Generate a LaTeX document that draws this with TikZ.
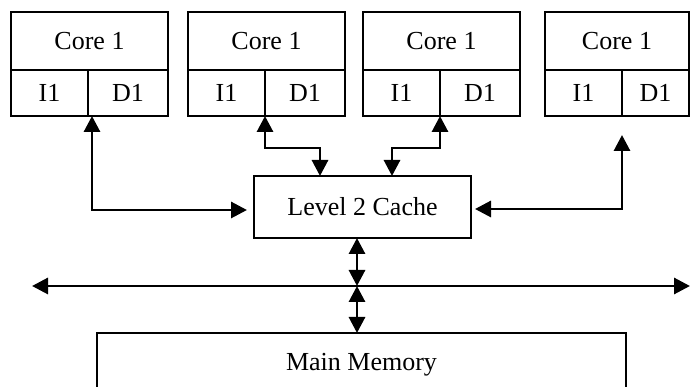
\documentclass[tikz,border=0pt]{standalone}
\usepackage{fontspec}
\setmainfont{Liberation Serif}
\usetikzlibrary{positioning, arrows.meta}

\tikzset{
    box/.style={draw, line width=1.2pt, inner sep=0pt, outer sep=0pt,
        font=\fontsize{14.8}{17}\selectfont},
    corebox/.style={box, minimum height=1.16cm},
    halfbox/.style={box, minimum height=0.92cm},
    link/.style={line width=1.7pt,
        {Triangle[width=0.32cm,length=0.32cm]}-{Triangle[width=0.32cm,length=0.32cm]}},
}

\begin{document}
\begin{tikzpicture}
            \useasboundingbox (0,0) rectangle (13.82,-7.74);

            % cores with their first level caches
            \node[corebox, minimum width=3.14cm, anchor=north west] (core1) at (0.22,-0.24) {Core 1};
            \node[halfbox, minimum width=1.54cm, below right=0cm and 0cm of core1.south west] (i1a) {I1};
            \node[halfbox, minimum width=1.60cm, right=0cm of i1a] (d1a) {D1};

            \node[corebox, minimum width=3.14cm, anchor=north west] (core2) at (3.76,-0.24) {Core 1};
            \node[halfbox, minimum width=1.54cm, below right=0cm and 0cm of core2.south west] (i1b) {I1};
            \node[halfbox, minimum width=1.60cm, right=0cm of i1b] (d1b) {D1};

            \node[corebox, minimum width=3.14cm, anchor=north west] (core3) at (7.26,-0.24) {Core 1};
            \node[halfbox, minimum width=1.54cm, below right=0cm and 0cm of core3.south west] (i1c) {I1};
            \node[halfbox, minimum width=1.60cm, right=0cm of i1c] (d1c) {D1};

            \node[corebox, minimum width=2.88cm, anchor=north west] (core4) at (10.90,-0.24) {Core 1};
            \node[halfbox, minimum width=1.54cm, below right=0cm and 0cm of core4.south west] (i1d) {I1};
            \node[halfbox, minimum width=1.34cm, right=0cm of i1d] (d1d) {D1};

            % shared cache and memory
            \node[box, minimum width=4.34cm, minimum height=1.24cm] (l2) at (7.25,-4.14) {Level 2 Cache};
            \node[box, minimum width=10.58cm, minimum height=1.26cm, anchor=north] (mem) at (7.23,-6.66) {Main Memory};

            % system bus
            \coordinate (busL) at (0.64,-5.72);
            \coordinate (busR) at (13.80,-5.72);
            \coordinate (bus) at (7.14,-5.72);

            \draw[link, shorten >=0.14cm] ([xshift=0.08cm]i1a.south east) |- ([yshift=-0.06cm]l2.west);
            \draw[link] (i1b.south east) -- ++(0,-0.64) -| ([xshift=-0.85cm]l2.north);
            \draw[link] (i1c.south east) -- ++(0,-0.64) -| ([xshift=0.59cm]l2.north);
            \draw[link, shorten >=0.08cm] ([yshift=-0.38cm]i1d.south east) |- ([yshift=-0.04cm]l2.east);

            \draw[link] (busL) -- (busR);
            \draw[link] (l2.south -| bus) -- (bus);
            \draw[link] (bus) -- (mem.north -| bus);
        \end{tikzpicture}
\end{document}
